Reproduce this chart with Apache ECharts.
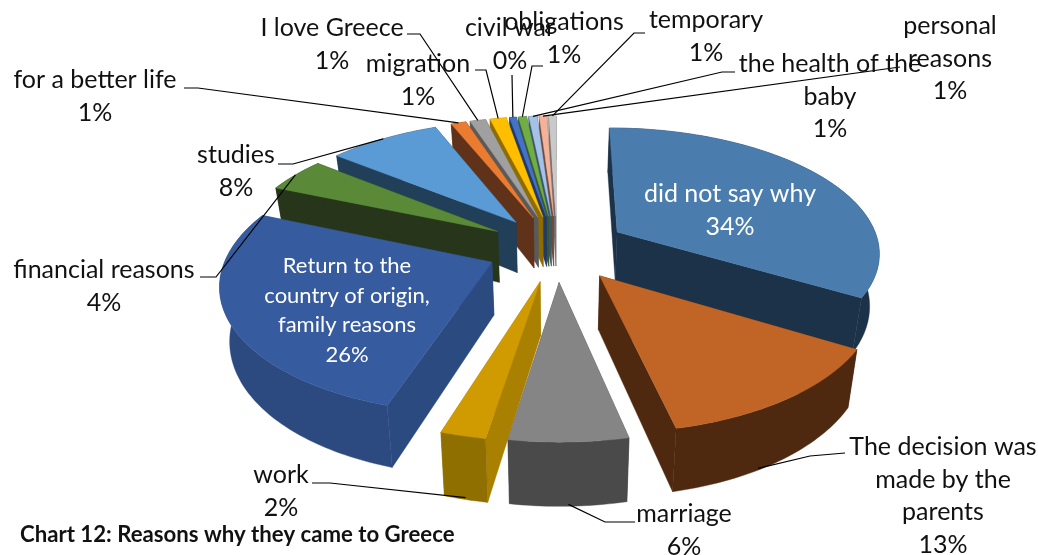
<!DOCTYPE html>
<html>
<head>
<meta charset="utf-8">
<style>html,body{margin:0;padding:0;background:#fff}#chart{width:1038px;height:555px}</style>
<script src="https://cdn.jsdelivr.net/npm/echarts@6/dist/echarts.min.js"></script>
</head>
<body>
<div id="chart"></div>
<script>
// Survey answers, clockwise from twelve o'clock
const categories = [
  'did not say why', 'The decision was\nmade by the\nparents', 'marriage', 'work',
  'Return to the\ncountry of origin,\nfamily reasons', 'financial reasons', 'studies',
  'for a better life', 'I love Greece', 'migration', 'civil war', 'obligations',
  'the health of the\nbaby', 'personal\nreasons', 'temporary'
];
const shares = [33.6, 13.0, 6.0, 2.3, 26.5, 4.4, 8.1, 1.1, 1.15, 1.2, 0.49, 0.6, 0.6, 0.55, 0.52];

const topColors = ['#4A7DAD', '#C16526', '#858585', '#CF9B00', '#365B9E', '#5A8A38', '#5B9BD5',
  '#E97C30', '#A0A0A0', '#FFBF00', '#4472C4', '#70AD47', '#A4C2E6', '#F4B29B', '#C9C9C9'];
const cutColors = ['#1C3248', '#4F2810', '#4A4A4A', '#AA8000', '#2B4A80', '#27361A', '#213F58',
  '#61321A', '#5A5A5A', '#8F6C00', '#223A6A', '#38592A', '#3D5670', '#6E4A3A', '#707070'];
const rimColors = ['#1C3248', '#4F2810', '#4A4A4A', '#8F6F00', '#2C4A80', '#27361A', '#213F58',
  '#61321A', '#5A5A5A', '#8F6C00', '#223A6A', '#38592A', '#3D5670', '#6E4A3A', '#707070'];

// Label placement: block centre x, first row y, text colour, leader elbow points,
// where the leader meets the rim (fraction of the slice's span, bottom edge or top edge)
const labelSpots = [
  { x: 730, y: 194, color: '#fff' },
  { x: 943, y: 447, line: [[845, 453], [810, 456]], low: true, at: 0.62 },
  { x: 684, y: 514, line: [[635, 522], [605, 522]], low: true },
  { x: 281, y: 475, line: [[312, 483], [330, 483]], low: true },
  { x: 347, y: 266, color: '#fff', size: 22, lh: 29.5 },
  { x: 104, y: 270, line: [[200, 277], [216, 277]] },
  { x: 236, y: 155, line: [[278, 164], [293, 164]] },
  { x: 95, y: 80, line: [[184, 88], [198, 88]] },
  { x: 332, y: 28, line: [[407, 34], [420, 34]] },
  { x: 418, y: 64, line: [[475, 70], [486, 70]] },
  { x: 510, y: 28, line: [[512, 75]] },
  { x: 564, y: 22, line: [[543, 66], [532, 66]] },
  { x: 830, y: 64, line: [[735, 72], [722, 72]] },
  { x: 950, y: 26, line: [[900, 67]] },
  { x: 706, y: 20, line: [[645, 33], [634, 33]] }
];

// Perspective camera and slice solid
const cam = { cx: 557, cy: 248, sx: 263, sy: 124, k: 0.15, wall: 52, taper: 0.03, blast: 0.268 };

const total = shares.reduce((a, b) => a + b, 0);
const percents = shares.map(v => Math.round(v / total * 100));
const spans = [];
shares.reduce((acc, v) => {
  spans.push([acc / total * 2 * Math.PI, (acc + v) / total * 2 * Math.PI]);
  return acc + v;
}, 0);

function project(px, py, z) {
  const s = 1 / (1 - cam.k * py);
  return [cam.cx + px * cam.sx * s * (1 - cam.taper * z), cam.cy + py * cam.sy * s + z * cam.wall * s];
}
function hub(i) {
  const m = (spans[i][0] + spans[i][1]) / 2;
  return [Math.sin(m) * cam.blast, -Math.cos(m) * cam.blast];
}
function rimPoint(i, a, z) {
  const h = hub(i);
  return project(h[0] + Math.sin(a), h[1] - Math.cos(a), z);
}
function arc(i, z) {
  const [a0, a1] = spans[i];
  const n = Math.max(2, Math.ceil((a1 - a0) / 0.02));
  const pts = [];
  for (let j = 0; j <= n; j++) pts.push(rimPoint(i, a0 + (a1 - a0) * j / n, z));
  return pts;
}
function sliceGroup(params, api) {
  const i = api.value(0);
  const rank = params.dataIndex * 10;
  const h = hub(i);
  const apexT = project(h[0], h[1], 0), apexB = project(h[0], h[1], 1);
  const top = arc(i, 0), low = arc(i, 1);
  const poly = (points, fill, z2) => ({
    type: 'polygon', z2: rank + z2, shape: { points },
    style: { fill, stroke: fill, lineWidth: 0.4 }
  });
  return {
    type: 'group',
    children: [
      poly([apexT, top[0], low[0], apexB], cutColors[i], 1),
      poly([apexT, top[top.length - 1], low[low.length - 1], apexB], cutColors[i], 2),
      poly(top.concat(low.slice().reverse()), rimColors[i], 3),
      poly([apexT].concat(top), topColors[i], 4)
    ]
  };
}
function labelGroup(params, api) {
  const i = api.value(0);
  const spot = labelSpots[i];
  const size = spot.size || 25, lh = spot.lh || 32.5;
  const children = [{
    type: 'text', z2: 5,
    style: {
      text: categories[i] + '\n' + percents[i] + '%',
      x: spot.x, y: spot.y - lh / 2, align: 'center', verticalAlign: 'top',
      fill: spot.color || '#111', lineHeight: lh,
      font: size + 'px Lato, "Noto Sans", sans-serif'
    }
  }];
  if (spot.line) {
    const f = spot.at === undefined ? 0.5 : spot.at;
    const a = spans[i][0] + (spans[i][1] - spans[i][0]) * f;
    children.unshift({
      type: 'polyline', z2: 4,
      shape: { points: spot.line.concat([rimPoint(i, a, spot.low ? 0.97 : 0)]) },
      style: { fill: 'none', stroke: '#000', lineWidth: 1.2 }
    });
  }
  return { type: 'group', children };
}

// Far slices are painted first so nearer ones overlap them
const depthOrder = shares.map((_, i) => i).sort((a, b) => hub(a)[1] - hub(b)[1]);

const chart = echarts.init(document.getElementById('chart'), null, { renderer: 'canvas' });
chart.setOption({
  animation: false,
  backgroundColor: '#fff',
  title: {
    text: 'Chart 12: Reasons why they came to Greece', left: 20, top: 524, padding: 0,
    textStyle: { fontFamily: 'Lato, "Noto Sans", sans-serif', fontSize: 22.2, fontWeight: 'bold', color: '#111' }
  },
  series: [
    { type: 'custom', coordinateSystem: 'none', silent: true, z: 2, renderItem: sliceGroup,
      data: depthOrder.map(i => [i]) },
    { type: 'custom', coordinateSystem: 'none', silent: true, z: 3, renderItem: labelGroup,
      data: categories.map((_, i) => [i]) }
  ]
});
</script>
</body>
</html>
